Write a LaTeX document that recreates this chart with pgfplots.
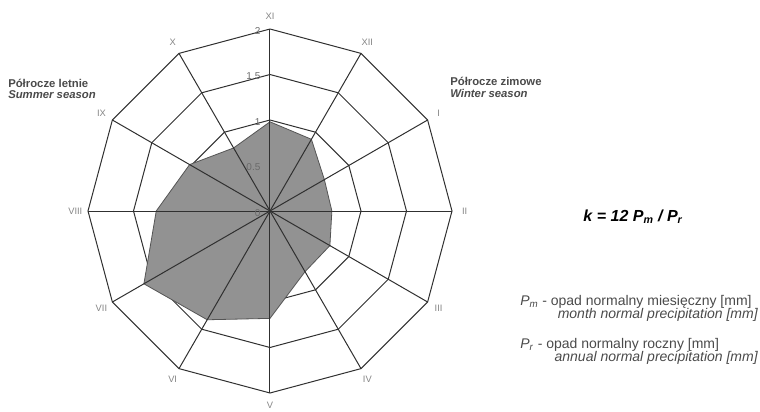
\documentclass[border=0pt]{standalone}
\usepackage{pgfplots}
\pgfplotsset{compat=1.18}
\usepackage{pgfplotstable}
\usepgfplotslibrary{polar}
\usepackage{fontspec}
\setmainfont{Liberation Sans}

\definecolor{gridc}{HTML}{303030}
\definecolor{areafill}{HTML}{929292}
\definecolor{areaedge}{HTML}{555555}
\definecolor{lblgray}{HTML}{858585}
\definecolor{ticgray}{HTML}{6A6A6A}
\definecolor{txtgray}{HTML}{4A4A4A}

% monthly precipitation coefficient k = 12 Pm / Pr (XI at the top, clockwise)
\pgfplotstableread{
angle month k
90  XI   0.98
60  XII  0.91
30  I    0.69
0   II   0.68
330 III  0.76
300 IV   0.77
270 V    1.18
240 VI   1.38
210 VII  1.60
180 VIII 1.25
150 IX   1.02
120 X    0.80
90  XI   0.98
}\kdata

\begin{document}
\begin{tikzpicture}
\begin{polaraxis}[
  width=273pt, height=273pt, scale only axis,
  xmin=0, xmax=360, ymin=0, ymax=2,
  hide axis, clip=false,
]
% dodecagonal rings
\pgfplotsinvokeforeach{0.5,1,1.5,2}{
  \addplot[draw=gridc, line width=0.75pt, no marks] coordinates {
    (90,#1) (60,#1) (30,#1) (0,#1) (330,#1) (300,#1) (270,#1)
    (240,#1) (210,#1) (180,#1) (150,#1) (120,#1) (90,#1)};
}
% filled area
\addplot[fill=areafill, draw=areaedge, line width=0.6pt, no marks]
  table[x=angle, y=k] {\kdata} -- cycle;
% spokes
\pgfplotsinvokeforeach{90,60,30,0,330,300,270,240,210,180,150,120}{
  \addplot[draw=gridc, line width=0.75pt, no marks] coordinates {(#1,0) (#1,2)};
}
% radial tick labels
\pgfplotsinvokeforeach{0,0.5,1,1.5,2}{
  \node[anchor=east, font=\fontsize{7.5}{8}\selectfont, text=ticgray,
        xshift=-7pt, yshift=-1.5pt, inner sep=0pt] at (axis cs:90,#1) {#1};
}
\coordinate (O) at (axis cs:0,0);
\end{polaraxis}

% month labels around the outer ring (radius 2 = 136.5pt)
\foreach \a/\m in {90/XI,60/XII,30/I,0/II,330/III,300/IV,270/V,240/VI,210/VII,180/VIII,150/IX,120/X}{
  \node[font=\fontsize{7}{8}\selectfont, text=lblgray, inner sep=0pt]
    at ([shift={(\a:146pt)}]O) {\m};
}

\pgfresetboundingbox
\path[use as bounding box] (O) ++(-202.5pt,-150pt) rectangle ++(570pt,308.25pt);

% season headings
\node[anchor=west, inner sep=0pt, text=txtgray, font=\bfseries\fontsize{8.5}{9}\selectfont]
  at ([shift={(-196.5pt,95.5pt)}]O) {Półrocze letnie};
\node[anchor=west, inner sep=0pt, text=txtgray, font=\bfseries\itshape\fontsize{8.5}{9}\selectfont]
  at ([shift={(-196.5pt,87.5pt)}]O) {Summer season};
\node[anchor=west, inner sep=0pt, text=txtgray, font=\bfseries\fontsize{8.5}{9}\selectfont]
  at ([shift={(135pt,97.5pt)}]O) {Półrocze zimowe};
\node[anchor=west, inner sep=0pt, text=txtgray, font=\bfseries\itshape\fontsize{8.5}{9}\selectfont]
  at ([shift={(135pt,88.3pt)}]O) {Winter season};

% formula
\node[inner sep=0pt, font=\bfseries\itshape\fontsize{12}{14}\selectfont]
  at ([shift={(272.25pt,-4.5pt)}]O) {k = 12 P\textsubscript{m} / P\textsubscript{r}};

% symbol explanations
\node[anchor=west, inner sep=0pt, text=txtgray, font=\fontsize{10.5}{12}\selectfont]
  at ([shift={(187.5pt,-68pt)}]O) {\textit{P}\textsubscript{\textit{m}} - opad normalny miesięczny [mm]};
\node[anchor=east, inner sep=0pt, text=txtgray, font=\itshape\fontsize{10.5}{12}\selectfont]
  at ([shift={(366pt,-78pt)}]O) {month normal precipitation [mm]};
\node[anchor=west, inner sep=0pt, text=txtgray, font=\fontsize{10.5}{12}\selectfont]
  at ([shift={(187.5pt,-100.5pt)}]O) {\textit{P}\textsubscript{\textit{r}} - opad normalny roczny [mm]};
\node[anchor=east, inner sep=0pt, text=txtgray, font=\itshape\fontsize{10.5}{12}\selectfont]
  at ([shift={(366pt,-110pt)}]O) {annual normal precipitation [mm]};
\end{tikzpicture}
\end{document}
